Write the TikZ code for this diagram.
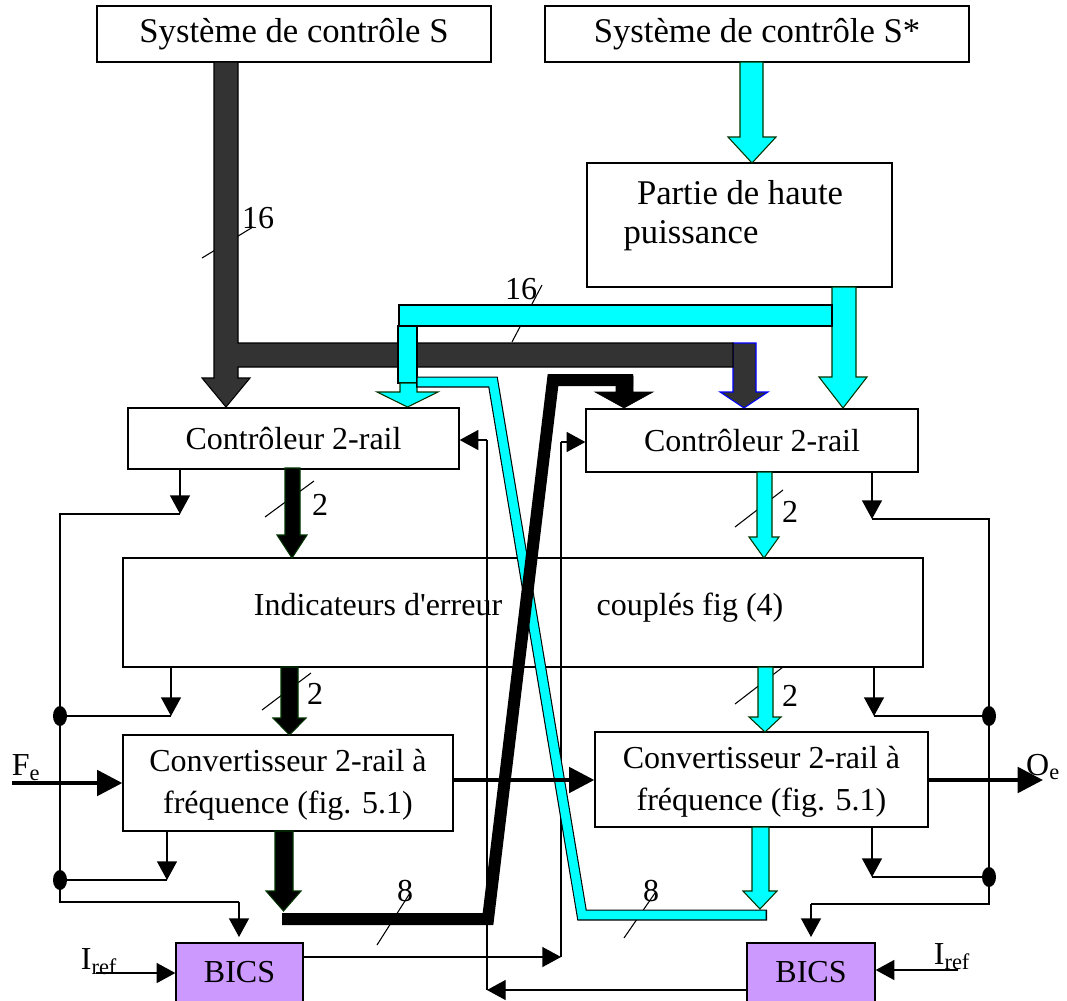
\documentclass[tikz,border=0pt]{standalone}
\usepackage{fontspec}
\setmainfont{Liberation Serif}
\usetikzlibrary{arrows.meta,fit,calc}
\definecolor{dkg}{HTML}{333333}
\definecolor{cy}{HTML}{00FFFF}
\definecolor{pu}{HTML}{CC99FF}
\definecolor{og}{HTML}{003300}
% block arrow: style, x1, x2, ytop, yhead, headleft, headright, ytip
\newcommand\myBarrow[8]{\draw[#1] (#2,#4) -- (#3,#4) -- (#3,#5) -- (#7,#5) -- ({(#6+#7)/2},#8) -- (#6,#5) -- (#2,#5) -- cycle;}
\begin{document}
\begin{tikzpicture}[x=0.75pt,y=-0.75pt,
  box/.style={draw, line width=1pt, inner sep=0pt},
  txt/.style={inner sep=0pt, align=center, font=\fontsize{24}{31.5}\selectfont},
  txtbig/.style={inner sep=0pt, align=center, font=\fontsize{26}{31.5}\selectfont},
  lab/.style={inner sep=0pt, font=\fontsize{24}{28}\selectfont},
  conn/.style={line width=1pt},
  tri/.style={-{Triangle[length=14pt,width=15pt]}},
  big/.style={line width=3.2pt, -{Triangle[length=19pt,width=19pt]}},
  slash/.style={line width=0.8pt},
  cyanarrow/.style={fill=cy, draw=og, line width=0.8pt},
  blackarrow/.style={fill=black, draw=og, line width=0.8pt},
  darkarrow/.style={fill=dkg, draw=black, line width=0.8pt},
  dot/.style={fill=black}]
\useasboundingbox (0,0) rectangle (1067,1000);

% ---- slashes (bus width marks), drawn under the buses
\draw[slash] (202,258) -- (253,227);
\draw[slash] (512,342) -- (542,285);
\draw[slash] (265,517) -- (314,481);
\draw[slash] (262,710) -- (311,673);
\draw[slash] (735,527) -- (783,490);
\draw[slash] (735,704) -- (783,667);
\draw[slash] (377,945) -- (410,893);
\draw[slash] (624,938) -- (655,893);

% ---- boxes
\node[box, fit={(97,6) (491,62)}] (S) {};
\node[txtbig] (St) at (S.center) {Système de contrôle S};
\node[box, fit={(545,6) (969,62)}] (Sstar) {};
\node[txtbig] (Sstart) at (Sstar.center) {Système de contrôle S*};
\node[box, fit={(587,163) (892,287)}] (partie) {};
\node[txtbig, anchor=base] (partieA) at (740,204) {Partie de haute};
\node[txtbig, anchor=base] (partieB) at (691,243) {puissance};
\node[box, fit={(128,408) (459,469)}] (ctrlL) {};
\node[txt] (ctrlLt) at (ctrlL.center) {Contrôleur 2-rail};
\node[box, fit={(586,409) (918,472)}] (ctrlR) {};
\node[txt] (ctrlRt) at (ctrlR.center) {Contrôleur 2-rail};
\node[box, fit={(123,558) (923,667)}] (indic) {};
\node[txt, anchor=base] (indicA) at (378,615) {Indicateurs d\textquotesingle erreur};
\node[txt, anchor=base] (indicB) at (690,615) {couplés fig (4)};
\node[box, fit={(123,735) (453,831)}] (convL) {};
\node[txt] (convLt) at ([yshift=-1.5pt]convL.center) {Convertisseur 2-rail à\\fréquence (fig. 5.1)};
\node[box, fit={(595,732) (928,827)}] (convR) {};
\node[txt] (convRt) at ([yshift=-1.5pt]convR.center) {Convertisseur 2-rail à\\fréquence (fig. 5.1)};
\node[box, fill=pu, fit={(176,943) (303,1002)}] (bicsL) {};
\node[txt] (bicsLt) at (239.5,972) {BICS};
\node[box, fill=pu, fit={(747,943) (875,1002)}] (bicsR) {};
\node[txt] (bicsRt) at (811,972) {BICS};

% ---- thin connectors, left rail
\coordinate (L1) at (180,514);
\coordinate (L2) at (60,514);
\coordinate (L3) at (60,902);
\coordinate (L4) at (239,902);
\coordinate (dL1) at (60,716);
\coordinate (dL2) at (60,880);
\coordinate (tL2) at (171,716);
\coordinate (tL3) at (167,880);
\draw[conn,tri] (ctrlL.south -| L1) -- (L1);
\draw[conn] (L1) -- (L2) -- (L3) -- (L4);
\draw[conn,tri,shorten >=4pt] (L4) -- (bicsL.north -| L4);
\draw[conn,tri] (indic.south -| tL2) -- (tL2);
\draw[conn] (tL2) -- (dL1);
\draw[conn,tri] (convL.south -| tL3) -- (tL3);
\draw[conn] (tL3) -- (dL2);
\fill[dot] (dL1) ellipse [x radius=5.25pt, y radius=7.5pt];
\fill[dot] (dL2) ellipse [x radius=5.25pt, y radius=7.5pt];

% ---- thin connectors, right rail
\coordinate (R1) at (872,519);
\coordinate (R2) at (989,519);
\coordinate (R3) at (989,904);
\coordinate (R4) at (811,904);
\coordinate (dR1) at (989,716);
\coordinate (dR2) at (989,877);
\coordinate (tR2) at (874,716);
\coordinate (tR3) at (872,877);
\draw[conn,tri] (ctrlR.south -| R1) -- (R1);
\draw[conn] (R1) -- (R2) -- (R3) -- (R4);
\draw[conn,tri,shorten >=4pt] (R4) -- (bicsR.north -| R4);
\draw[conn,tri] (indic.south -| tR2) -- (tR2);
\draw[conn] (tR2) -- (dR1);
\draw[conn,tri] (convR.south -| tR3) -- (tR3);
\draw[conn] (tR3) -- (dR2);
\fill[dot] (dR1) ellipse [x radius=5.25pt, y radius=7.5pt];
\fill[dot] (dR2) ellipse [x radius=5.25pt, y radius=7.5pt];

% ---- BICS feedback links
\coordinate (B1) at (561,957);
\coordinate (B2) at (561,442);
\draw[conn,tri] (bicsL.east |- B1) -- (B1);
\draw[conn] (B1) -- (B2);
\draw[conn,tri] (B2) -- (ctrlR.west |- B2);
\coordinate (B3) at (487,990);
\coordinate (B4) at (487,440);
\draw[conn,tri] (bicsR.west |- B3) -- (B3);
\draw[conn] (B3) -- (B4);
\draw[conn,tri] (B4) -- (ctrlL.east |- B4);

% ---- I_ref inputs
\coordinate (IL) at (96,973);
\coordinate (IR) at (958,970);
\draw[conn,tri] (IL) -- (bicsL.west |- IL);
\draw[conn,tri] (IR) -- (bicsR.east |- IR);

% ---- block arrows (buses)
\myBarrow{darkarrow, draw=blue}{733}{756}{343}{392}{720}{768}{408}
\draw[darkarrow] (214,62) -- (238,62) -- (238,343) -- (733,343) -- (733,367) -- (238,367)
  -- (238,378) -- (250,378) -- (226,407) -- (202,378) -- (214,378) -- cycle;
\myBarrow{cyanarrow}{740}{763}{62}{137}{728}{776}{163}
\myBarrow{cyanarrow}{832}{856}{287}{377}{819}{867}{408}
\draw[fill=cy, draw=black, line width=0.8pt] (399,305) rectangle (832,326);
\draw[fill=cy, draw=black, line width=0.8pt] (398,326) rectangle (417,383);
\myBarrow{cyanarrow}{400}{417}{383}{392}{377}{438}{407}
\myBarrow{blackarrow}{285}{300}{468}{535}{277}{307}{558}
\myBarrow{blackarrow}{281}{298}{667}{718}{273}{306}{735}
\myBarrow{cyanarrow}{757}{772}{472}{537}{749}{779}{558}
\myBarrow{cyanarrow}{758}{773}{667}{717}{749}{781}{732}
\myBarrow{blackarrow}{275}{293}{831}{891}{266}{301}{911}
\myBarrow{cyanarrow}{752}{769}{827}{891}{743}{777}{909}

% ---- crossing buses
\draw[line width=8.25pt, line join=miter, black] (416,382) -- (493,382) -- (582,915) -- (767,915);
\draw[line width=6.6pt, line join=miter, cy] (417.5,382) -- (493,382) -- (582,915) -- (765.5,915);
\draw[line width=9pt, line join=miter, black] (282,919) -- (488,919) -- (553,380) -- (633,380);
\myBarrow{fill=black}{616}{633}{376}{392}{595}{653}{408}

% ---- main signal arrows
\coordinate (Fe) at (12,783);
\coordinate (Oe) at (1043,780);
\draw[big] (Fe) -- (convL.west |- Fe);
\draw[big] (convL.east |- Oe) -- (convR.west |- Oe);
\draw[big] (convR.east |- Oe) -- (Oe);

% ---- labels
\node[lab] (lFe) at (26,768) {F\textsubscript{e}};
\node[lab] (lOe) at (1043,767) {O\textsubscript{e}};
\node[lab] (lIL) at (99,962) {I\textsubscript{ref}};
\node[lab] (lIR) at (952,957) {I\textsubscript{ref}};
\node[lab] (n16a) at (258,218) {16};
\node[lab] (n16b) at (521,289) {16};
\node[lab] (n2a) at (320,505) {2};
\node[lab] (n2b) at (315,694) {2};
\node[lab] (n2c) at (790,512) {2};
\node[lab] (n2d) at (790,696) {2};
\node[lab] (n8a) at (405,891) {8};
\node[lab] (n8b) at (651,891) {8};
\end{tikzpicture}
\end{document}
